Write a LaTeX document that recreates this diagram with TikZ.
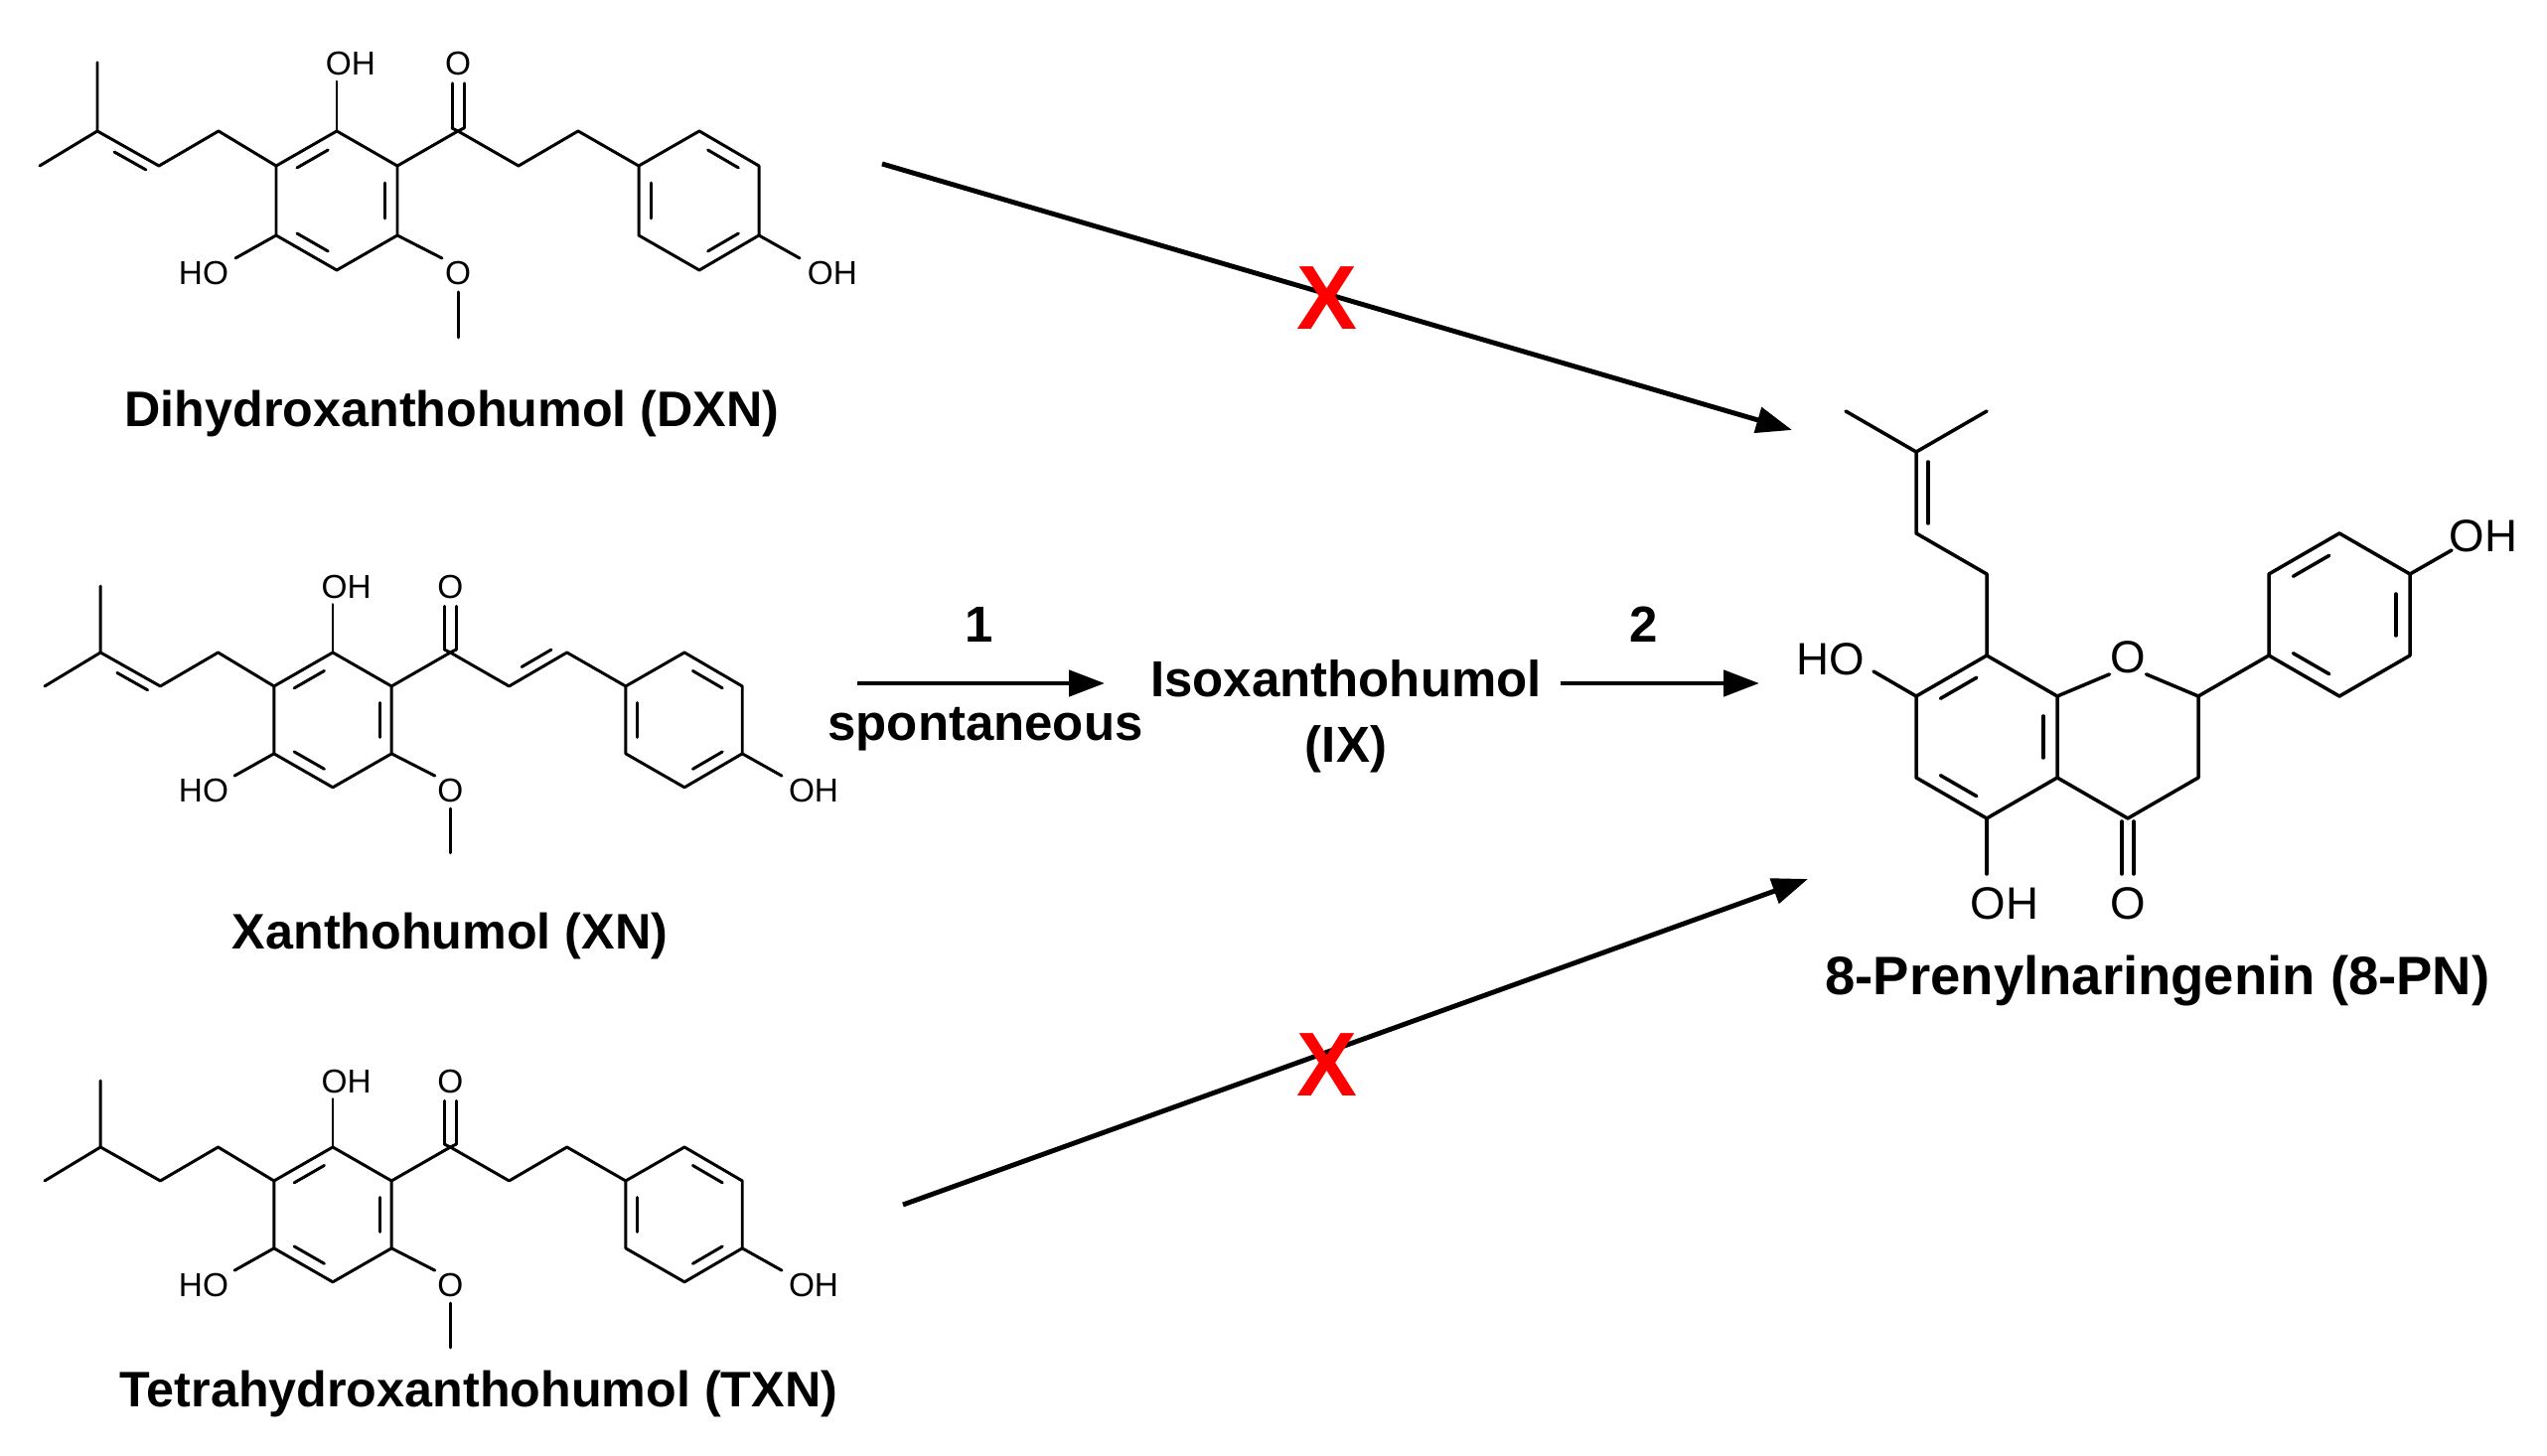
\documentclass[tikz,border=0pt]{standalone}
\usepackage{fontspec}
\setmainfont{Liberation Sans}
\usetikzlibrary{calc,positioning,arrows.meta}

\tikzset{
  bond/.style={line width=0.85pt, line cap=round, line join=round},
  bigbond/.style={line width=1pt, line cap=round, line join=round},
  atom/.style={inner sep=0pt, font=\fontsize{9.5}{10}\selectfont},
  bigatom/.style={inner sep=0pt, font=\fontsize{13}{14}\selectfont},
  namelbl/.style={inner sep=0pt, font=\fontsize{14.3}{16}\selectfont\bfseries},
  steplbl/.style={inner sep=0pt, font=\fontsize{14.5}{18.7}\selectfont\bfseries, align=center},
  reaction/.style={line width=1.4pt, -{Triangle[length=3.6mm,width=2.6mm]}},
  blocked/.style={inner sep=0pt, text=red, font=\fontsize{26}{28}\selectfont\bfseries}
}
% inner line of a double bond, pulled towards (#3)
\newcommand{\inbond}[4][bond]{\draw[#1] ($($(#2)!.18!(#3)$)!.2!(#4)$) -- ($($(#2)!.82!(#3)$)!.2!(#4)$);}
% ring, OH, C=O, OMe and the p-hydroxyphenyl shared by the three chalcones
\newcommand{\chalconecore}{
  \coordinate (a1) at (0,0);    \coordinate (a2) at (61,35);
  \coordinate (a3) at (61,105); \coordinate (a4) at (0,140);
  \coordinate (a5) at (-61,105);\coordinate (a6) at (-61,35);
  \coordinate (ac) at (0,70);
  \coordinate (c1) at (122,0);
  \coordinate (p1) at (304,35); \coordinate (p2) at (365,0);
  \coordinate (p3) at (425,35); \coordinate (p4) at (425,105);
  \coordinate (p5) at (365,140);\coordinate (p6) at (304,105);
  \coordinate (pc) at (365,70);
  \draw[bond] (a1) -- (a2) -- (a3) -- (a4) -- (a5) -- (a6) -- cycle;
  \inbond{a6}{a1}{ac} \inbond{a2}{a3}{ac} \inbond{a4}{a5}{ac}
  \draw[bond] (p1) -- (p2) -- (p3) -- (p4) -- (p5) -- (p6) -- cycle;
  \inbond{p2}{p3}{pc} \inbond{p4}{p5}{pc} \inbond{p6}{p1}{pc}
  \draw[bond] (a1) -- (0,-50);
  \node[atom] at (14,-68) {OH};
  \draw[bond] (a2) -- (c1);
  \draw[bond] ($(c1)+(-6,-3)$) -- ++(0,-45) ($(c1)+(6,-3)$) -- ++(0,-45);
  \draw[bond] ($(c1)+(-6,-3)$) -- (c1) -- ($(c1)+(6,-3)$);
  \node[atom] at (122,-68) {O};
  \draw[bond] (a5) -- (-102,128);
  \node[atom] at (-134,143) {HO};
  \draw[bond] (a3) -- (106,128);
  \node[atom] at (122,143) {O};
  \draw[bond] (122,162) -- (122,208);
  \draw[bond] (p4) -- (466,128);
  \node[atom] at (499,143) {OH};
}

\begin{document}
\begin{tikzpicture}[x=0.1mm, y=-0.1mm]
  \useasboundingbox (0,0) rectangle (2564,1466);

  %Dihydroxanthohumol
  \begin{scope}[shift={(339,132)}]
    \chalconecore
    \draw[bond] (a6) -- (-119,0) -- (-179,35) -- (-241,0) -- (-241,-69);
    \draw[bond] (-241,0) -- (-299,35);
    \coordinate (dbh) at (-200,80);
    \inbond{-179,35}{-241,0}{dbh}
    \draw[bond] (c1) -- (183,35) -- (243,0) -- (p1);
  \end{scope}
  \node[namelbl] (dxn) at (455,417) {Dihydroxanthohumol (DXN)};

  %Xanthohumol
  \begin{scope}[shift={(335,657)}, scale=0.97]
    \chalconecore
    \draw[bond] (a6) -- (-119,0) -- (-179,35) -- (-241,0) -- (-241,-69);
    \draw[bond] (-241,0) -- (-299,35);
    \coordinate (dbh) at (-200,80);
    \inbond{-179,35}{-241,0}{dbh}
    \draw[bond] (c1) -- (183,35) -- (243,0) -- (p1);
    \coordinate (enh) at (205,-40);
    \inbond{183,35}{243,0}{enh}
  \end{scope}
  \node[namelbl] (xn) at (453,943) {Xanthohumol (XN)};

  %Tetrahydroxanthohumol
  \begin{scope}[shift={(335,1155)}, scale=0.97]
    \chalconecore
    \draw[bond] (a6) -- (-119,0) -- (-179,35) -- (-241,0) -- (-241,-69);
    \draw[bond] (-241,0) -- (-299,35);
    \draw[bond] (c1) -- (183,35) -- (243,0) -- (p1);
  \end{scope}
  \node[namelbl] (txn) at (482,1403) {Tetrahydroxanthohumol (TXN)};

  %8-Prenylnaringenin
  \coordinate (n8) at (2000,660);  \coordinate (n8a) at (2071,701);
  \coordinate (n4a) at (2071,783); \coordinate (n5) at (2000,824);
  \coordinate (n6) at (1929,783);  \coordinate (n7) at (1929,701);
  \coordinate (nac) at (2000,742);
  \coordinate (n2) at (2213,701);  \coordinate (n3) at (2213,783);
  \coordinate (n4) at (2142,824);
  \coordinate (b1) at (2284,660);  \coordinate (b2) at (2284,578);
  \coordinate (b3) at (2355,537);  \coordinate (b4) at (2426,578);
  \coordinate (b5) at (2426,660);  \coordinate (b6) at (2355,701);
  \coordinate (bc) at (2355,619);
  \draw[bigbond] (n8) -- (n8a) -- (n4a) -- (n5) -- (n6) -- (n7) -- cycle;
  \inbond[bigbond]{n7}{n8}{nac} \inbond[bigbond]{n8a}{n4a}{nac} \inbond[bigbond]{n5}{n6}{nac}
  \node[bigatom] (o1) at (2142,662) {O};
  \draw[bigbond] (n8a) -- (o1.south west);
  \draw[bigbond] (o1.south east) -- (n2) -- (n3) -- (n4) -- (n4a);
  \draw[bigbond] (2136,827) -- (2136,880) (2148,827) -- (2148,880);
  \node[bigatom] at (2142,910) {O};
  \draw[bigbond] (n5) -- (2000,880);
  \node[bigatom] at (2018,910) {OH};
  \draw[bigbond] (n7) -- (1886,676);
  \node[bigatom] at (1843,664) {HO};
  \draw[bigbond] (n8) -- (2000,578) -- (1929,537) -- (1929,455) -- (1858,414);
  \draw[bigbond] (1929,455) -- (2000,414);
  \draw[bigbond] (1941,465) -- (1941,527);
  \draw[bigbond] (n2) -- (b1);
  \draw[bigbond] (b1) -- (b2) -- (b3) -- (b4) -- (b5) -- (b6) -- cycle;
  \inbond[bigbond]{b2}{b3}{bc} \inbond[bigbond]{b4}{b5}{bc} \inbond[bigbond]{b6}{b1}{bc}
  \draw[bigbond] (b4) -- (2468,554);
  \node[bigatom] at (2500,540) {OH};
  \node[namelbl, font=\fontsize{15.5}{17}\selectfont\bfseries] (pn) at (2172,988) {8-Prenylnaringenin (8-PN)};

  %reactions
  \coordinate (dxnout) at (888,165);   \coordinate (pnin1) at (1804,433);
  \coordinate (txnout) at (909,1213);  \coordinate (pnin2) at (1820,885);
  \coordinate (xnout) at (863,688);    \coordinate (ixin) at (1112,688);
  \coordinate (ixout) at (1571,688);   \coordinate (pnin3) at (1771,688);
  \draw[reaction] (dxnout) -- (pnin1);
  \draw[reaction] (txnout) -- (pnin2);
  \node[blocked] (x1) at (1336,300) {X};
  \node[blocked] (x2) at (1336,1072) {X};
  \node[steplbl] (ix) at (1355,721) {Isoxanthohumol\\(IX)};
  \draw[reaction] (xnout) -- (ixin);
  \draw[reaction] (ixout) -- (pnin3);
  \node[steplbl] (s1) at (986,629) {1};
  \node[steplbl] (sp) at (992,734) {spontaneous};
  \node[steplbl] (s2) at (1655,629) {2};

\end{tikzpicture}
\end{document}
